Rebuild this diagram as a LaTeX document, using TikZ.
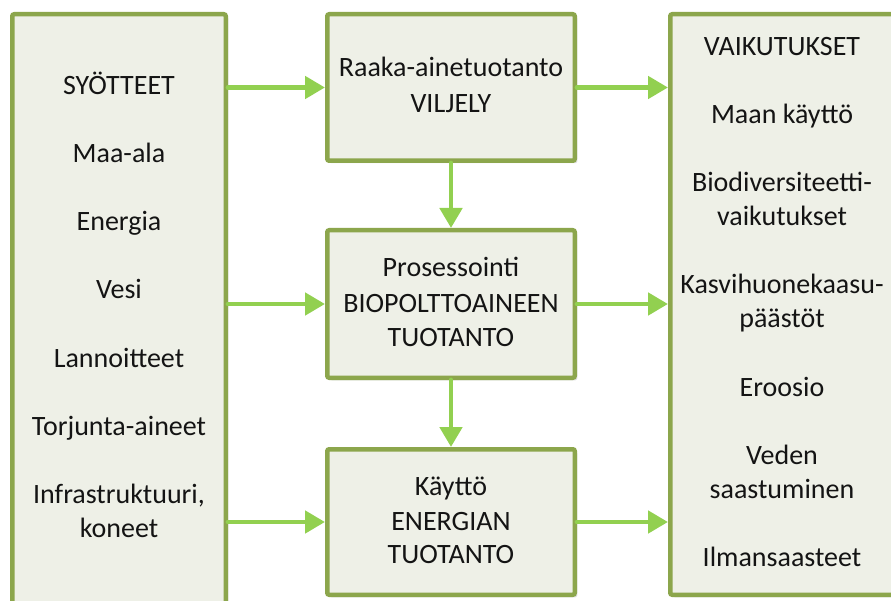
\documentclass[tikz,border=0pt]{standalone}
\usepackage{fontspec}
\setmainfont{Carlito}
\usetikzlibrary{arrows.meta,shadows}

\definecolor{boxline}{HTML}{8CA64C}
\definecolor{boxfill}{HTML}{EEF0E7}
\definecolor{flow}{HTML}{92D050}

\begin{document}
\begin{tikzpicture}[x=1pt,y=-1pt,
  panel/.style={draw=boxline, line width=4.5pt, fill=boxfill, rounded corners=2pt,
    inner sep=0pt, anchor=north west,
    drop shadow={shadow xshift=2.5pt, shadow yshift=-2.5pt, fill=black!12, opacity=1}},
  txt/.style={anchor=base, font=\fontsize{28}{34}\selectfont, text=black!92, inner sep=0pt},
  flowarrow/.style={draw=flow, line width=4.8pt, line cap=round,
    -{Triangle[length=20pt,width=22pt]}}]

% page
\fill[white] (0,0) rectangle (891,601);
\useasboundingbox (0,0) rectangle (891,601);

% boxes
\node[panel, minimum width=213.5pt, minimum height=620pt] (inputs) at (10,12) {};
\node[panel, minimum width=223.5pt, minimum height=580.5pt] (effects) at (668,12) {};
\node[panel, minimum width=247.5pt, minimum height=146.5pt] (crop) at (325,12) {};
\node[panel, minimum width=247.5pt, minimum height=147.5pt] (proc) at (325,228) {};
\node[panel, minimum width=247.5pt, minimum height=145.5pt] (use) at (325,447) {};

% connectors
\draw[flowarrow] (crop.west -| inputs.east) -- (crop.west);
\draw[flowarrow] (proc.west -| inputs.east) -- (proc.west);
\draw[flowarrow] (use.west -| inputs.east) -- (use.west);
\draw[flowarrow] (crop.east) -- (crop.east -| effects.west);
\draw[flowarrow] (proc.east) -- (proc.east -| effects.west);
\draw[flowarrow] (use.east) -- (use.east -| effects.west);
\draw[flowarrow] (crop.south) -- (proc.north);
\draw[flowarrow] (proc.south) -- (use.north);

% inputs column
\node[txt] (in0) at (119,95) {SYÖTTEET};
\node[txt] (in1) at (119,163) {Maa-ala};
\node[txt] (in2) at (119,231) {Energia};
\node[txt] (in3) at (119,299) {Vesi};
\node[txt] (in4) at (119,367) {Lannoitteet};
\node[txt] (in5) at (119,435) {Torjunta-aineet};
\node[txt] (in6a) at (119,503) {Infrastruktuuri,};
\node[txt] (in6b) at (119,537) {koneet};

% middle column
\node[txt] (c1) at (451,77) {Raaka-ainetuotanto};
\node[txt] (c2) at (451,113) {VILJELY};
\node[txt] (p1) at (451,277) {Prosessointi};
\node[txt] (p2) at (451,313) {BIOPOLTTOAINEEN};
\node[txt] (p3) at (451,347) {TUOTANTO};
\node[txt] (u1) at (451,495) {Käyttö};
\node[txt] (u2) at (451,530) {ENERGIAN};
\node[txt] (u3) at (451,563) {TUOTANTO};

% effects column
\node[txt] (e0) at (782,56) {VAIKUTUKSET};
\node[txt] (e1) at (782,124) {Maan käyttö};
\node[txt] (e2a) at (782,192) {Biodiversiteetti-};
\node[txt] (e2b) at (782,226) {vaikutukset};
\node[txt] (e3a) at (782,294) {Kasvihuonekaasu-};
\node[txt] (e3b) at (782,328) {päästöt};
\node[txt] (e4) at (782,396) {Eroosio};
\node[txt] (e5a) at (782,464) {Veden};
\node[txt] (e5b) at (782,498) {saastuminen};
\node[txt] (e6) at (782,566) {Ilmansaasteet};
\end{tikzpicture}
\end{document}
